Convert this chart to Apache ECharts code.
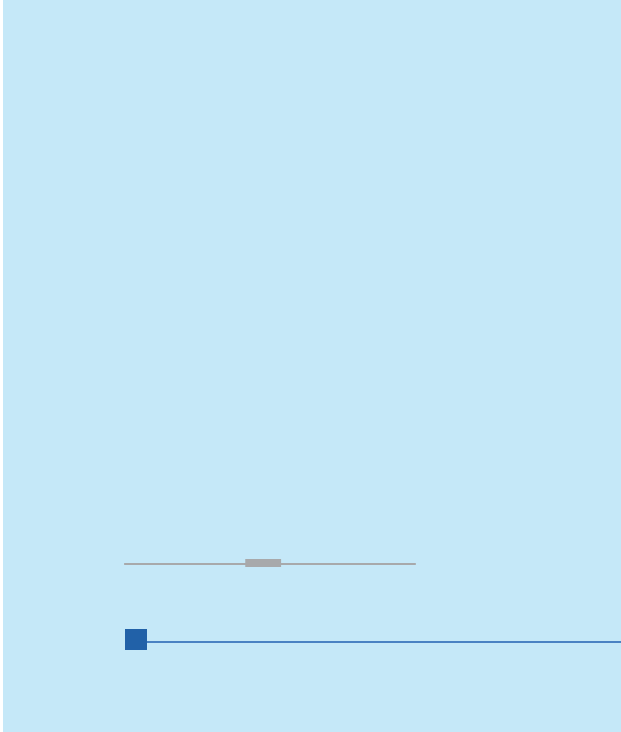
<!DOCTYPE html>
<html><head><meta charset="utf-8">
<script src="https://cdn.jsdelivr.net/npm/echarts@6/dist/echarts.min.js"></script>
<style>html,body{margin:0;padding:0;background:#fff;}#c{position:absolute;left:3px;top:0;width:618px;height:732px;}</style>
</head><body><div id="c"></div>
<script>
// values on a 0-100 horizontal scale and 0-100 vertical scale
const grayRange = [19.6, 66.8];
const grayBox = [39.2, 45.0];
const grayLevel = 22.95;
const grayBoxLevel = 23.09;
const blueMarker = [21.52, 12.64];
const blueLine = [23.3, 100];
const blueLevel = 12.30;

const chart = echarts.init(document.getElementById('c'));
chart.setOption({
  backgroundColor: '#C5E8F8',
  animation: false,
  grid: {left: 0, right: 0, top: 0, bottom: 0},
  xAxis: {type: 'value', min: 0, max: 100, show: false},
  yAxis: {type: 'value', min: 0, max: 100, show: false},
  series: [
    {type: 'line', symbol: 'none', silent: true,
     data: grayRange.map(v => [v, grayLevel]),
     lineStyle: {color: '#A8A9AB', width: 2}},
    {type: 'line', symbol: 'none', silent: true,
     data: grayBox.map(v => [v, grayBoxLevel]),
     lineStyle: {color: '#A8A9AB', width: 8}},
    {type: 'line', symbol: 'none', silent: true,
     data: blueLine.map(v => [v, blueLevel]),
     lineStyle: {color: '#4A82C3', width: 2}},
    {type: 'scatter', symbol: 'rect', symbolSize: [22, 21], silent: true,
     data: [blueMarker],
     itemStyle: {color: '#2161A8', opacity: 1}}
  ]
});
</script></body></html>
